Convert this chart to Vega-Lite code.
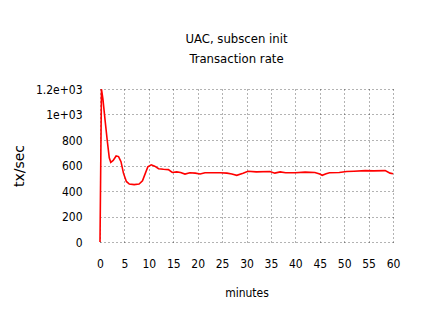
{
  "$schema": "https://vega.github.io/schema/vega-lite/v6.json",
  "width": 293,
  "height": 153,
  "autosize": {"type": "none"},
  "padding": {"left": 100, "top": 89, "right": 29, "bottom": 77},
  "background": "white",
  "title": {
    "text": ["UAC, subscen init", "Transaction rate"],
    "font": "DejaVu Sans Condensed",
    "fontSize": 13,
    "fontWeight": "normal",
    "lineHeight": 20,
    "offset": 17,
    "dx": -10,
    "color": "black"
  },
  "config": {
    "view": {"stroke": null},
    "axis": {
      "labelFont": "DejaVu Sans Condensed",
      "labelFontSize": 12,
      "labelColor": "black",
      "domain": false,
      "ticks": false,
      "grid": true,
      "gridColor": "black",
      "gridOpacity": 0.6,
      "gridDash": [1, 3],
      "gridWidth": 1
    }
  },
  "data": {
    "values": [
      {"minutes": 0, "rate": 0},
      {"minutes": 0.3, "rate": 1200},
      {"minutes": 0.6, "rate": 1120},
      {"minutes": 1.0, "rate": 970},
      {"minutes": 1.5, "rate": 790},
      {"minutes": 1.9, "rate": 660},
      {"minutes": 2.2, "rate": 625},
      {"minutes": 2.7, "rate": 640},
      {"minutes": 3.3, "rate": 675},
      {"minutes": 3.8, "rate": 670},
      {"minutes": 4.3, "rate": 630},
      {"minutes": 4.8, "rate": 540},
      {"minutes": 5.4, "rate": 475},
      {"minutes": 6.0, "rate": 455},
      {"minutes": 7.0, "rate": 450},
      {"minutes": 8.0, "rate": 455},
      {"minutes": 8.7, "rate": 480},
      {"minutes": 9.3, "rate": 540},
      {"minutes": 9.8, "rate": 590},
      {"minutes": 10.5, "rate": 605},
      {"minutes": 11.2, "rate": 595},
      {"minutes": 12.0, "rate": 575},
      {"minutes": 13.0, "rate": 570},
      {"minutes": 14.0, "rate": 568},
      {"minutes": 14.8, "rate": 545},
      {"minutes": 15.7, "rate": 550},
      {"minutes": 16.5, "rate": 545},
      {"minutes": 17.4, "rate": 533},
      {"minutes": 18.4, "rate": 543},
      {"minutes": 19.5, "rate": 540},
      {"minutes": 20.5, "rate": 533},
      {"minutes": 21.5, "rate": 543},
      {"minutes": 23, "rate": 543},
      {"minutes": 24.6, "rate": 543},
      {"minutes": 26, "rate": 540},
      {"minutes": 27, "rate": 533},
      {"minutes": 28, "rate": 523},
      {"minutes": 29.3, "rate": 540},
      {"minutes": 30.3, "rate": 555},
      {"minutes": 32, "rate": 550},
      {"minutes": 34.8, "rate": 553},
      {"minutes": 35.8, "rate": 540},
      {"minutes": 36.9, "rate": 550},
      {"minutes": 38, "rate": 543},
      {"minutes": 40, "rate": 543},
      {"minutes": 42, "rate": 548},
      {"minutes": 44, "rate": 545},
      {"minutes": 45, "rate": 533},
      {"minutes": 45.5, "rate": 523},
      {"minutes": 46.3, "rate": 535},
      {"minutes": 47, "rate": 543},
      {"minutes": 49, "rate": 545},
      {"minutes": 50.5, "rate": 553},
      {"minutes": 52, "rate": 555},
      {"minutes": 54.3, "rate": 560},
      {"minutes": 56, "rate": 558},
      {"minutes": 58.4, "rate": 560},
      {"minutes": 59.4, "rate": 540},
      {"minutes": 60, "rate": 535}
    ]
  },
  "mark": {"type": "line", "color": "#ff0000", "strokeWidth": 1.6, "clip": false},
  "encoding": {
    "x": {
      "field": "minutes",
      "type": "quantitative",
      "scale": {"domain": [0, 60], "nice": false, "zero": false},
      "axis": {
        "values": [0, 5, 10, 15, 20, 25, 30, 35, 40, 45, 50, 55, 60],
        "labelPadding": 16,
        "labelFlush": false,
        "title": "minutes",
        "titleFont": "DejaVu Sans Condensed",
        "titleFontSize": 12,
        "titleFontWeight": "normal",
        "titleColor": "black",
        "titlePadding": 18
      }
    },
    "y": {
      "field": "rate",
      "type": "quantitative",
      "scale": {"domain": [0, 1200], "nice": false},
      "axis": {
        "values": [0, 200, 400, 600, 800, 1000, 1200],
        "labelExpr": "datum.value == 1000 ? '1e+03' : datum.value == 1200 ? '1.2e+03' : datum.label",
        "labelPadding": 18,
        "labelFlush": false,
        "title": "tx/sec",
        "titleFont": "DejaVu Sans",
        "titleFontSize": 14,
        "titleFontWeight": "normal",
        "titleColor": "black",
        "titlePadding": 9
      }
    }
  }
}
